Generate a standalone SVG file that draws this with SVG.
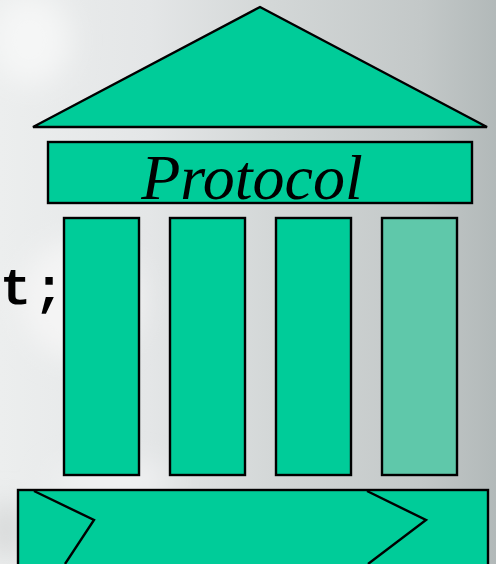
<svg xmlns="http://www.w3.org/2000/svg" width="496" height="564" viewBox="0 0 496 564">
<style>
.s{fill:#00cc99;stroke:#000;stroke-width:2.4}
.l{fill:none;stroke:#000;stroke-width:2.4}
</style>
<defs>
<linearGradient id="bg" x1="0" y1="0" x2="1" y2="0">
<stop offset="0" stop-color="#eceeee"/>
<stop offset="0.3" stop-color="#e4e6e7"/>
<stop offset="0.55" stop-color="#d3d7d7"/>
<stop offset="0.85" stop-color="#c3c8c8"/>
<stop offset="1" stop-color="#b2b9b9"/>
</linearGradient>
<filter id="b" x="-50%" y="-50%" width="200%" height="200%"><feGaussianBlur stdDeviation="14"/></filter>
</defs>
<rect width="496" height="564" fill="url(#bg)"/>
<g filter="url(#b)">
<ellipse cx="30" cy="40" rx="40" ry="45" fill="#f5f6f6"/>
<ellipse cx="80" cy="300" rx="60" ry="60" fill="#f4f4f4"/>
<ellipse cx="110" cy="480" rx="60" ry="18" fill="#f0f1f2"/>
<ellipse cx="6" cy="530" rx="10" ry="30" fill="#cacccc"/>
</g>
<g id="roof"><polygon class="s" points="260,7 487,127 33,127"/></g>
<g id="protocol"><rect class="s" x="48" y="142" width="424" height="61"/>
<text x="252" y="199" font-family="'Liberation Serif',serif" font-style="italic" font-size="64" text-anchor="middle">Protocol</text></g>
<g id="pillar1"><rect class="s" x="64" y="218" width="75" height="257"/></g>
<g id="pillar2"><rect class="s" x="170" y="218" width="75" height="257"/></g>
<g id="pillar3"><rect class="s" x="276" y="218" width="75" height="257"/></g>
<g id="pillar4"><rect x="382" y="218" width="75" height="257" fill="#5fc8aa" stroke="#000" stroke-width="2.4"/></g>
<g id="base"><rect class="s" x="18" y="490" width="470" height="80"/></g>
<g id="connectors"><polyline class="l" points="34,491 94,520 65,564"/><polyline class="l" points="367,491 426,520 368,564"/></g>
<text id="code" x="0" y="304" font-family="'Liberation Mono',monospace" font-weight="bold" font-size="52" letter-spacing="2" fill="#000">t;</text>
</svg>
